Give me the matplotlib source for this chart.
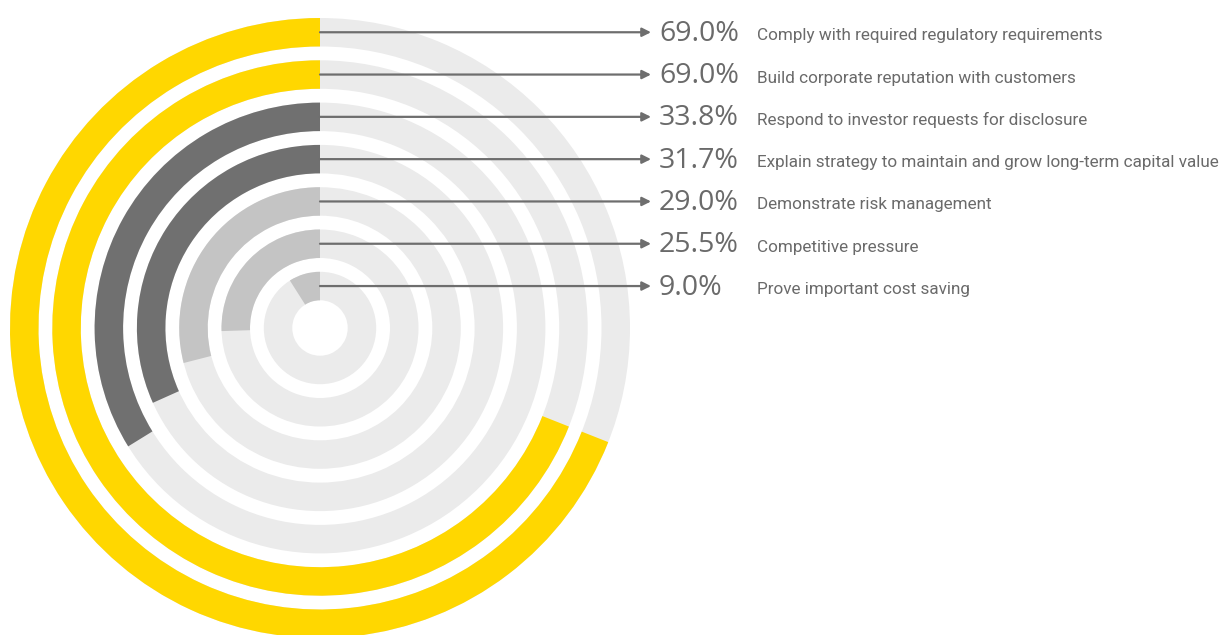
import matplotlib
matplotlib.use("Agg")
import matplotlib.pyplot as plt
from matplotlib.patches import Wedge

# data
labels = [
    "Comply with required regulatory requirements",
    "Build corporate reputation with customers",
    "Respond to investor requests for disclosure",
    "Explain strategy to maintain and grow long-term capital value",
    "Demonstrate risk management",
    "Competitive pressure",
    "Prove important cost saving",
]
values = [69.0, 69.0, 33.8, 31.7, 29.0, 25.5, 9.0]
bar_colors = ["#ffd700", "#ffd700", "#707070", "#707070", "#c4c4c4", "#c4c4c4", "#c4c4c4"]

track_color = "#ebebeb"
text_color = "#6a6a6a"

W, H = 1229, 635
fig = plt.figure(figsize=(W / 100, H / 100), dpi=100)
ax = fig.add_axes([0, 0, 1, 1])
ax.set_xlim(0, W)
ax.set_ylim(0, H)
ax.set_aspect("equal")
ax.axis("off")

cx, cy = 320, H - 328
r_outer = 310
pitch = 42.3
thick = 28.5

for i, (lab, v, c) in enumerate(zip(labels, values, bar_colors)):
    r = r_outer - i * pitch
    # background track
    ax.add_patch(Wedge((cx, cy), r, 0, 360, width=thick, facecolor=track_color, edgecolor="none"))
    # value arc, counterclockwise from 12 o'clock
    ax.add_patch(Wedge((cx, cy), r, 90, 90 + 360 * v / 100, width=thick, facecolor=c, edgecolor="none"))

    y = cy + r - thick / 2
    ax.annotate("", xy=(651, y), xytext=(cx, y),
                arrowprops=dict(arrowstyle="-|>", color="#6e6e6e", lw=1.6,
                                shrinkA=0, shrinkB=0, mutation_scale=13))
    ax.text(659, y - 8.5, f"{v:.1f}%", fontsize=20.5, color=text_color,
            family=["Open Sans", "DejaVu Sans"], va="baseline", ha="left")
    ax.text(757, y - 8, lab, fontsize=12.3, color=text_color,
            family=["Roboto", "DejaVu Sans"], va="baseline", ha="left")

fig.savefig("out.png", dpi=100)
